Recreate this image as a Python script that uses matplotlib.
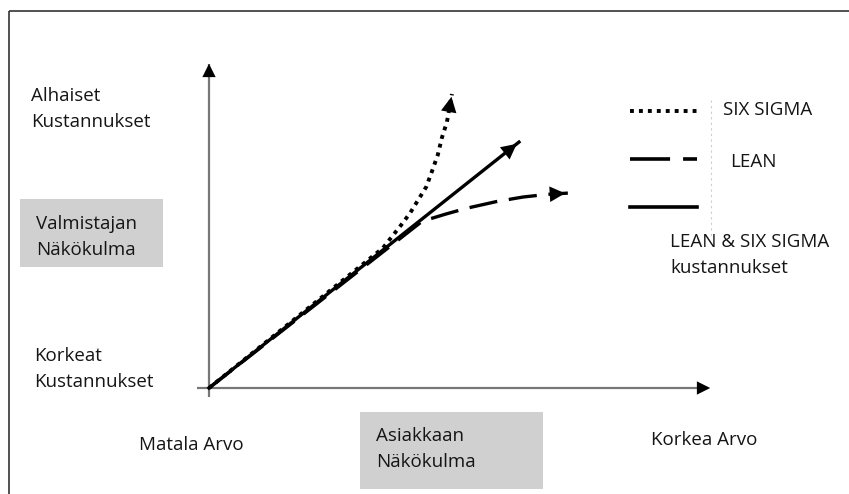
import numpy as np
import matplotlib.pyplot as plt
from matplotlib.patches import Rectangle

plt.rcParams['font.family'] = ['Open Sans', 'DejaVu Sans']

# Curves in diagram units: x = customer value, y = manufacturer cost level
solid_x = [0.0, 6.15]
solid_y = [0.0, 7.52]

sixsigma_x = [0.0, 3.45, 3.81, 3.99, 4.15, 4.31, 4.42, 4.54, 4.62, 4.72, 4.82]
sixsigma_y = [0.0, 4.28, 4.98, 5.35, 5.75, 6.15, 6.61, 7.13, 7.65, 8.13, 8.99]

lean_x = [0.0, 4.23, 4.70, 5.12, 5.70, 6.23, 6.70, 7.12]
lean_y = [0.0, 5.10, 5.32, 5.50, 5.70, 5.84, 5.92, 5.96]

axis_end = 10.0

# labels
cost_high = 'Alhaiset\nKustannukset'
cost_low = 'Korkeat\nKustannukset'
maker_view = 'Valmistajan\nNäkökulma'
value_low = 'Matala Arvo'
value_high = 'Korkea Arvo'
customer_view = 'Asiakkaan\nNäkökulma'
legend_labels = ['SIX SIGMA', 'LEAN', 'LEAN & SIX SIGMA\nkustannukset']

W, H = 849, 494
fig = plt.figure(figsize=(W / 100, H / 100), dpi=100)

# background axes in pixel units for the frame, boxes and text
bg = fig.add_axes([0, 0, 1, 1])
bg.set_xlim(0, W)
bg.set_ylim(H, 0)
bg.axis('off')

# main diagram axes, origin at pixel (209, 388)
ox, oy = 209, 388
sx, sy = 50.4, 32.7
lo, hi = -1.0, 10.5
ax = fig.add_axes([(ox + lo * sx) / W, (H - oy + lo * sy) / H,
                   (hi - lo) * sx / W, (hi - lo) * sy / H])
ax.set_xlim(lo, hi)
ax.set_ylim(lo, hi)
ax.axis('off')
ax.patch.set_alpha(0)

# outer frame
bg.add_patch(Rectangle((9, 11), 900, 600, fill=False, ec='#333333', lw=1.2))

# grey boxes
bg.add_patch(Rectangle((20, 199), 143, 68, fc='#d0d0d0', ec='none'))
bg.add_patch(Rectangle((360, 412), 183, 77, fc='#d0d0d0', ec='none'))

txt = dict(fontsize=13.5, color='#151515', va='center', ha='left', linespacing=1.55)
bg.text(31, 109, cost_high, **txt)
bg.text(34, 369, cost_low, **txt)
bg.text(36, 237, maker_view, **txt)
bg.text(139, 445, value_low, **txt)
bg.text(651, 440, value_high, **txt)
bg.text(376, 449, customer_view, **txt)

# axes with arrow heads
ax.plot([-0.24, axis_end - 0.1], [0, 0], color='#777777', lw=1.6, solid_capstyle='butt')
ax.plot([0, 0], [-0.28, axis_end - 0.1], color='#777777', lw=1.6, solid_capstyle='butt')
head = dict(arrowstyle='-|>,head_length=0.6,head_width=0.3', color='black',
            lw=0, mutation_scale=16)
ax.annotate('', xy=(axis_end, 0), xytext=(axis_end - 0.3, 0), arrowprops=head)
ax.annotate('', xy=(0, axis_end), xytext=(0, axis_end - 0.4), arrowprops=head)

# curves
dotted = (0, (1, 1.3))
dashed = (0, (8.5, 3.5))
ax.plot(lean_x, lean_y, color='black', lw=2.4, ls=dashed)
ax.plot(sixsigma_x, sixsigma_y, color='black', lw=2.8, ls=dotted)
ax.plot(solid_x, solid_y, color='black', lw=2.4)

tip = dict(arrowstyle='-|>,head_length=0.65,head_width=0.33', color='black',
           lw=0, mutation_scale=17)
for xs, ys in [(solid_x, solid_y), (sixsigma_x, sixsigma_y), (lean_x, lean_y)]:
    dx, dy = xs[-1] - xs[-2], ys[-1] - ys[-2]
    n = np.hypot(dx * sx, dy * sy)
    ax.annotate('', xy=(xs[-1], ys[-1]),
                xytext=(xs[-1] - dx * 12 / n, ys[-1] - dy * 12 / n),
                arrowprops=tip)

# legend drawn by hand
bg.plot([630, 697], [111, 111], color='black', lw=2.8, ls=dotted)
bg.plot([630, 697], [159, 159], color='black', lw=2.6, ls=(0, (11.1, 3.6, 3.9, 10)))
bg.plot([630, 697], [207, 207], color='black', lw=2.6)
bg.plot([711, 711], [100, 237], color='#cccccc', lw=0.8, ls=(0, (2, 3)))
bg.text(723, 110, legend_labels[0], **txt)
bg.text(730, 162, legend_labels[1], **txt)
bg.text(670, 255, legend_labels[2], **txt)

fig.savefig('out.png', dpi=100)
